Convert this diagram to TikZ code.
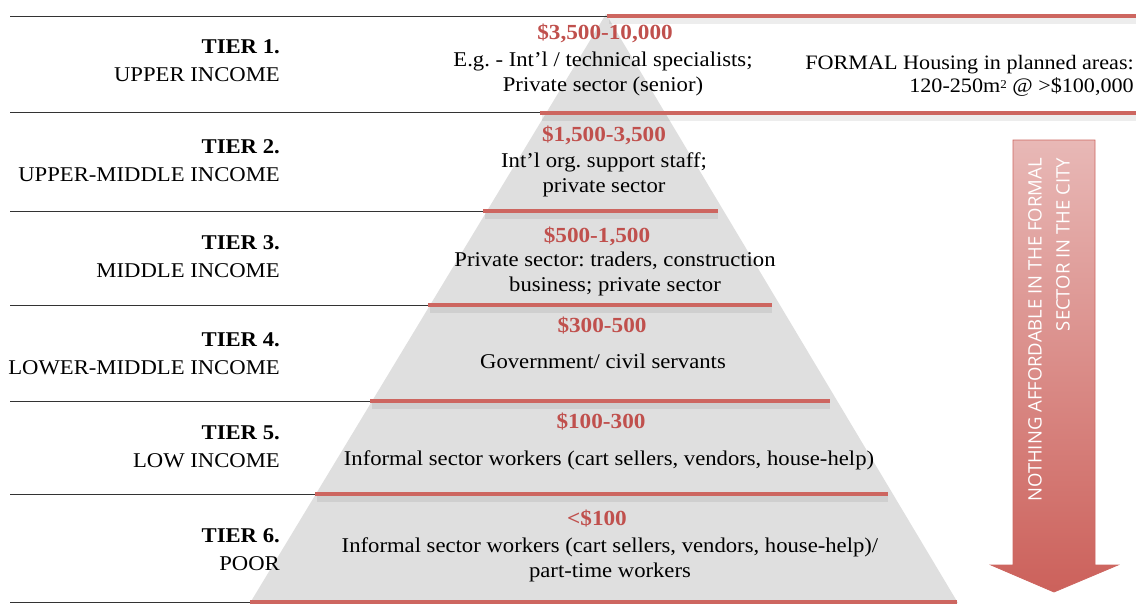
\documentclass[tikz,border=0pt]{standalone}
\usepackage{fontspec}
\setmainfont[FakeStretch=1.08]{Liberation Serif}
\newfontfamily\arrowfont{Open Sans}
\frenchspacing
\definecolor{linered}{HTML}{CD6660}
\definecolor{pricered}{HTML}{C0504D}
\definecolor{pyrgray}{HTML}{DFDFDF}
\definecolor{sepgray}{HTML}{333333}
\definecolor{arrowtop}{HTML}{E8B8B6}
\definecolor{arrowbot}{HTML}{CC615B}
\begin{document}
\begin{tikzpicture}[x=1pt,y=-1pt,
  redbar/.style={line width=4.5pt, draw=linered},
  barshadow/.style={line width=7pt, draw=black, opacity=0.07},
  sepline/.style={line width=0.9pt, draw=sepgray},
  tierlab/.style={anchor=east, align=right, inner sep=0pt,
    font=\fontsize{21}{28}\selectfont},
  price/.style={inner sep=0pt, text=pricered,
    font=\fontsize{21.5}{24}\selectfont\bfseries},
  desc/.style={inner sep=0pt, align=center,
    font=\fontsize{21}{25.5}\selectfont},
  note/.style={inner sep=0pt, align=right, anchor=east,
    font=\fontsize{20.5}{23}\selectfont},
  arrowtext/.style={inner sep=0pt, align=right, text=white, rotate=90,
    font=\arrowfont\fontsize{18.5}{28}\selectfont}]
\useasboundingbox (0,0) rectangle (1136,605);

% pyramid body
\fill[pyrgray] (606,14) -- (958,603) -- (250,603) -- cycle;

% left separator rules
\draw[sepline] (10,16) -- (607,16);
\draw[sepline] (10,112) -- (540,112);
\draw[sepline] (10,211) -- (483,211);
\draw[sepline] (10,305) -- (428,305);
\draw[sepline] (10,401) -- (370,401);
\draw[sepline] (10,494) -- (315,494);
\draw[sepline] (10,602) -- (250,602);

% shadows under the red bars
\foreach \xa/\xb/\yy in {607/1136/16, 540/1136/113, 483/718/211,
  428/772/305, 370/830/401, 315/888/494}
  \draw[barshadow] (\xa+2,\yy+4) -- (\xb,\yy+4);

% red bars
\draw[redbar] (607,16) -- (1136,16);
\draw[redbar] (540,113) -- (1136,113);
\draw[redbar] (483,211) -- (718,211);
\draw[redbar] (428,305) -- (772,305);
\draw[redbar] (370,401) -- (830,401);
\draw[redbar] (315,494) -- (888,494);
\draw[redbar] (250,602) -- (957,602);

% tier names
\node[tierlab] (t1) at (280,61) {\textbf{TIER 1.}\\UPPER INCOME};
\node[tierlab] (t2) at (280,161) {\textbf{TIER 2.}\\UPPER-MIDDLE INCOME};
\node[tierlab] (t3) at (280,257) {\textbf{TIER 3.}\\MIDDLE INCOME};
\node[tierlab] (t4) at (280,354) {\textbf{TIER 4.}\\LOWER-MIDDLE INCOME};
\node[tierlab] (t5) at (280,447) {\textbf{TIER 5.}\\LOW INCOME};
\node[tierlab] (t6) at (280,550) {\textbf{TIER 6.}\\POOR};

% income ranges
\node[price] (p1) at (605,33) {\$3,500-10,000};
\node[price] (p2) at (604,135) {\$1,500-3,500};
\node[price] (p3) at (597,236) {\$500-1,500};
\node[price] (p4) at (602,326) {\$300-500};
\node[price] (p5) at (601,422) {\$100-300};
\node[price] (p6) at (597,519) {<\$100};

% occupations
\node[desc] (d1) at (603,74) {E.g. - Int’l / technical specialists;\\Private sector (senior)};
\node[desc] (d2) at (604,175) {Int’l org. support staff;\\private sector};
\node[desc] (d3) at (615,274) {Private sector: traders, construction\\business; private sector};
\node[desc] (d4) at (603,361) {Government/ civil servants};
\node[desc] (d5) at (609,460) {Informal sector workers (cart sellers, vendors, house-help)};
\node[desc] (d6) at (610,560) {Informal sector workers (cart sellers, vendors, house-help)/\\part-time workers};

% formal housing note
\node[note] (fh) at (1134,76) {FORMAL Housing in planned areas:\\120-250m{\fontsize{12}{12}\selectfont\raisebox{4pt}{2}} @ >\$100,000};

% downward arrow
\shade[top color=arrowtop, bottom color=arrowbot, draw=linered, line width=0.8pt]
  (1013,140) -- (1095,140) -- (1095,565) -- (1118,565) -- (1054,592)
  -- (991,565) -- (1013,565) -- cycle;
\node[arrowtext, anchor=north east] (ar) at (1028,158)
  {NOTHING AFFORDABLE IN THE FORMAL\\SECTOR IN THE CITY};
\end{tikzpicture}
\end{document}
